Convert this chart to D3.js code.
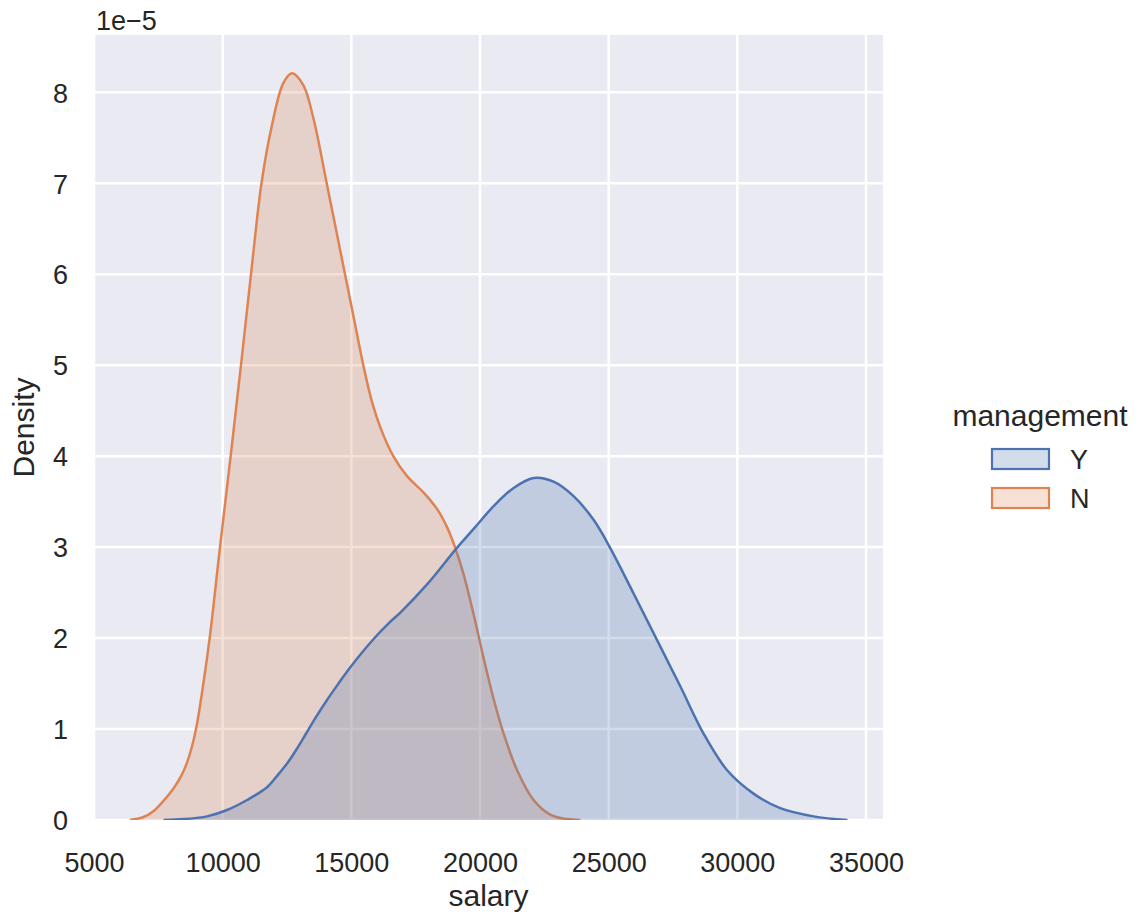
<!DOCTYPE html>
<html>
<head>
<meta charset="utf-8">
<script src="https://cdn.jsdelivr.net/npm/d3@7"></script>
<style>
  html, body { margin: 0; padding: 0; background: #ffffff; }
  svg { display: block; font-family: "Liberation Sans", Arial, sans-serif; }
</style>
</head>
<body>
<svg id="chart" width="1141" height="917"></svg>
<script>
// ---- data (density in units of 1e-5) ----
const seriesNames = ["Y", "N"];
const seriesColors = ["#4c72b0", "#dd8452"];

const salaryN = [6394, 6900, 7320, 7700, 8096, 8400, 8600, 8800, 8991, 9250, 9508, 9896, 10310, 10712, 11101, 11509, 11909, 12356, 12694, 13133, 13522, 14043, 14400, 14754, 15110, 15465, 15800, 16150, 16631, 17164, 17809, 18330, 18718, 19028, 19363, 19752, 20140, 20529, 20917, 21437, 22082, 22730, 23380, 23900];
const densityN = [0, 0.03, 0.10, 0.21, 0.35, 0.49, 0.62, 0.80, 1.04, 1.50, 2.03, 3.00, 4.00, 5.00, 6.00, 7.00, 7.63, 8.10, 8.21, 8.08, 7.72, 7.00, 6.50, 6.00, 5.50, 5.00, 4.60, 4.30, 4.00, 3.78, 3.60, 3.42, 3.22, 3.00, 2.70, 2.26, 1.78, 1.33, 0.95, 0.55, 0.22, 0.06, 0.01, 0];

const salaryY = [7700, 8485, 9394, 10171, 10948, 11725, 12100, 12502, 12900, 13220, 13600, 14056, 14500, 14961, 15866, 16515, 16904, 17941, 19040, 19752, 20529, 21306, 22082, 22859, 23636, 24413, 25062, 25968, 26876, 27782, 28687, 29595, 30629, 31666, 32960, 34278];
const densityY = [0, 0.01, 0.04, 0.11, 0.22, 0.36, 0.48, 0.62, 0.79, 0.94, 1.12, 1.32, 1.50, 1.68, 1.99, 2.18, 2.28, 2.59, 2.97, 3.20, 3.45, 3.65, 3.76, 3.72, 3.56, 3.30, 2.99, 2.49, 1.98, 1.47, 0.95, 0.55, 0.29, 0.13, 0.04, 0];

const xTicks = [5000, 10000, 15000, 20000, 25000, 30000, 35000];
const yTicks = [0, 1, 2, 3, 4, 5, 6, 7, 8];
const xDomain = [5000, 35660];
const yDomain = [0, 8.63];

// ---- layout ----
const svg = d3.select("#chart");
const plotL = 94, plotR = 883, plotT = 35, plotB = 820;
const textColor = "#262626";

const x = d3.scaleLinear().domain(xDomain).range([plotL, plotR]);
const y = d3.scaleLinear().domain(yDomain).range([plotB, plotT]);

svg.append("rect").attr("width", 1141).attr("height", 917).attr("fill", "#ffffff");

// plot background
svg.append("rect")
  .attr("x", plotL).attr("y", plotT)
  .attr("width", plotR - plotL).attr("height", plotB - plotT)
  .attr("fill", "#eaeaf2");

svg.append("clipPath").attr("id", "plotclip")
  .append("rect").attr("x", plotL).attr("y", plotT)
  .attr("width", plotR - plotL).attr("height", plotB - plotT);

// grid
const grid = svg.append("g").attr("clip-path", "url(#plotclip)");
grid.selectAll("line.gx").data(xTicks).join("line")
  .attr("class", "gx")
  .attr("x1", d => x(d)).attr("x2", d => x(d))
  .attr("y1", plotT).attr("y2", plotB)
  .attr("stroke", "#ffffff").attr("stroke-width", 2.5);
grid.selectAll("line.gy").data(yTicks).join("line")
  .attr("class", "gy")
  .attr("x1", plotL).attr("x2", plotR)
  .attr("y1", d => y(d)).attr("y2", d => y(d))
  .attr("stroke", "#ffffff").attr("stroke-width", 2.5);

// series
const seriesData = {
  Y: salaryY.map((s, i) => ({ s, d: densityY[i] })),
  N: salaryN.map((s, i) => ({ s, d: densityN[i] }))
};
const curve = d3.curveCatmullRom.alpha(0.5);
const area = d3.area().x(p => x(p.s)).y0(y(0)).y1(p => y(p.d)).curve(curve);
const line = d3.line().x(p => x(p.s)).y(p => y(p.d)).curve(curve);

const plot = svg.append("g").attr("clip-path", "url(#plotclip)");
["N", "Y"].forEach(name => {
  const c = seriesColors[seriesNames.indexOf(name)];
  const g = plot.append("g");
  g.append("path").datum(seriesData[name]).attr("d", area)
    .attr("fill", c).attr("fill-opacity", 0.25).attr("stroke", "none");
  g.append("path").datum(seriesData[name]).attr("d", line)
    .attr("fill", "none").attr("stroke", c).attr("stroke-width", 2.5)
    .attr("stroke-linejoin", "round");
});

// axes (tick labels only, seaborn darkgrid style)
const xAxis = d3.axisBottom(x).tickValues(xTicks).tickSize(0).tickPadding(0).tickFormat(d3.format("d"));
const gx = svg.append("g").attr("transform", `translate(0,${plotB})`).call(xAxis);
gx.select(".domain").remove();
gx.selectAll("text").attr("y", 52).attr("dy", null)
  .attr("font-size", 27).attr("fill", textColor).attr("font-family", "Liberation Sans, Arial, sans-serif");

const yAxis = d3.axisLeft(y).tickValues(yTicks).tickSize(0).tickPadding(0).tickFormat(d3.format("d"));
const gy = svg.append("g").attr("transform", `translate(${plotL},0)`).call(yAxis);
gy.select(".domain").remove();
gy.selectAll("text").attr("x", 68 - plotL).attr("dy", "0.36em")
  .attr("font-size", 27).attr("fill", textColor).attr("font-family", "Liberation Sans, Arial, sans-serif");

// offset text
svg.append("text").attr("x", 96).attr("y", 30)
  .attr("font-size", 27).attr("fill", textColor).text("1e\u22125");

// axis labels
svg.append("text").attr("x", (plotL + plotR) / 2).attr("y", 906)
  .attr("text-anchor", "middle").attr("font-size", 30).attr("fill", textColor).text("salary");
svg.append("text")
  .attr("transform", `translate(34,${(plotT + plotB) / 2}) rotate(-90)`)
  .attr("text-anchor", "middle").attr("font-size", 30).attr("fill", textColor).text("Density");

// legend
const legend = svg.append("g");
legend.append("text").attr("x", 1040).attr("y", 426)
  .attr("text-anchor", "middle").attr("font-size", 30).attr("fill", textColor).text("management");
const legendRowY = [448, 487];
seriesNames.forEach((name, i) => {
  const c = seriesColors[i];
  legend.append("rect").attr("x", 992).attr("y", legendRowY[i] + 1)
    .attr("width", 57).attr("height", 20)
    .attr("fill", d3.interpolateRgb("#ffffff", c)(0.25))
    .attr("stroke", c).attr("stroke-width", 2.2);
  legend.append("text").attr("x", 1070).attr("y", legendRowY[i] + 11).attr("dy", "0.36em")
    .attr("font-size", 27).attr("fill", textColor).text(name);
});
</script>
</body>
</html>
